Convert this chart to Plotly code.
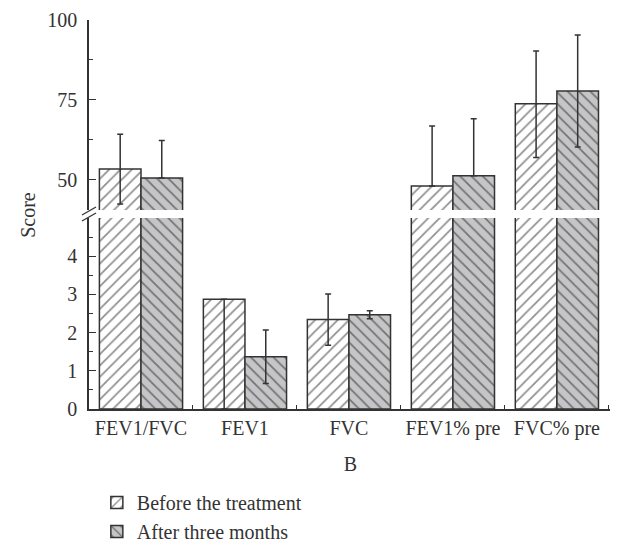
import plotly.graph_objects as go

# Pulmonary function scores
categories = ["FEV1/FVC", "FEV1", "FVC", "FEV1% pre", "FVC% pre"]
before = [53.4, 2.87, 2.34, 48.1, 73.8]
before_err_up = [10.9, 0.0, 0.67, 18.8, 16.5]
before_err_down = [10.9, 2.87, 0.67, 0.0, 16.8]
after = [50.6, 1.37, 2.47, 51.3, 77.8]
after_err_up = [11.7, 0.70, 0.10, 17.8, 17.5]
after_err_down = [0.0, 0.70, 0.11, 0.0, 17.5]

series_names = ["Before the treatment", "After three months"]

FONT = "Liberation Serif"
INK = "#333333"


def bar_trace(name, values, up, down, bg, shape, yaxis, show):
    return go.Bar(
        x=categories, y=values, name=name, yaxis=yaxis,
        legendgroup=name, showlegend=show,
        marker=dict(
            color=bg,
            line=dict(color=INK, width=1.5),
            pattern=dict(shape=shape, fillmode="overlay", bgcolor=bg,
                         fgcolor="#222222", size=8, solidity=0.22),
        ),
        error_y=dict(type="data", symmetric=False, array=up, arrayminus=down,
                     color=INK, thickness=1.5, width=3),
    )


fig = go.Figure()
for ax, show in (("y", True), ("y2", False)):
    fig.add_trace(bar_trace(series_names[0], before, before_err_up, before_err_down,
                            "white", "/", ax, show))
    fig.add_trace(bar_trace(series_names[1], after, after_err_up, after_err_down,
                            "#c5c5c7", "\\", ax, show))

lower_top = 191 / 389
upper_bottom = 199 / 389

# the page body adds an 8px margin, so the figure is 8px smaller than the window
fig.update_layout(
    width=610, height=535,
    margin=dict(l=81, r=6, t=12, b=134, autoexpand=False),
    paper_bgcolor="white", plot_bgcolor="white",
    font=dict(family=FONT, size=20, color=INK),
    barmode="group", bargap=0.2, bargroupgap=0,
    xaxis=dict(
        type="category", range=[-0.5, 4.53],
        showline=True, linecolor=INK, linewidth=1.5,
        ticks="inside", tickson="boundaries", ticklen=4, tickcolor=INK,
        ticklabelstandoff=0, showgrid=False, anchor="y",
        tickangle=0, automargin=False,
        tickfont=dict(size=20),
        title=dict(text="B", standoff=18, font=dict(size=20)),
    ),
    yaxis=dict(
        domain=[0, lower_top], range=[0, 5], anchor="x",
        tickvals=[0, 1, 2, 3, 4], tickfont=dict(size=20),
        showline=True, linecolor=INK, linewidth=1.5,
        ticks="inside", ticklen=7, tickcolor=INK, ticklabelstandoff=6,
        minor=dict(tickvals=[0.5, 1.5, 2.5, 3.5, 4.5], ticks="inside",
                   ticklen=4, tickcolor=INK, showgrid=False),
        showgrid=False, zeroline=False, automargin=False,
    ),
    yaxis2=dict(
        domain=[upper_bottom, 1], range=[40.6, 100], anchor="x",
        tickvals=[50, 75, 100], tickfont=dict(size=20),
        ticklabeloverflow="allow",
        showline=True, linecolor=INK, linewidth=1.5,
        ticks="inside", ticklen=7, tickcolor=INK, ticklabelstandoff=6,
        minor=dict(tickvals=[62.5, 87.5], ticks="inside",
                   ticklen=4, tickcolor=INK, showgrid=False),
        showgrid=False, zeroline=False, automargin=False,
    ),
    legend=dict(
        x=0.015, y=-0.19, xanchor="left", yanchor="top",
        bgcolor="rgba(0,0,0,0)", font=dict(size=20), tracegroupgap=0,
    ),
    showlegend=True,
)

fig.add_annotation(text="Score", textangle=-90, xref="paper", yref="paper",
                   x=-0.118, y=0.5, xanchor="center", yanchor="middle",
                   showarrow=False, font=dict(size=20))

# break marks on the y axis between the two segments
mid = (lower_top + upper_bottom) / 2
for dy in (-3, 3):
    fig.add_shape(type="line", xref="paper", yref="paper",
                  xsizemode="pixel", ysizemode="pixel", xanchor=0, yanchor=mid,
                  x0=-7, x1=7, y0=dy - 4, y1=dy + 4,
                  line=dict(color=INK, width=1.3))

fig.write_html("out.html")
